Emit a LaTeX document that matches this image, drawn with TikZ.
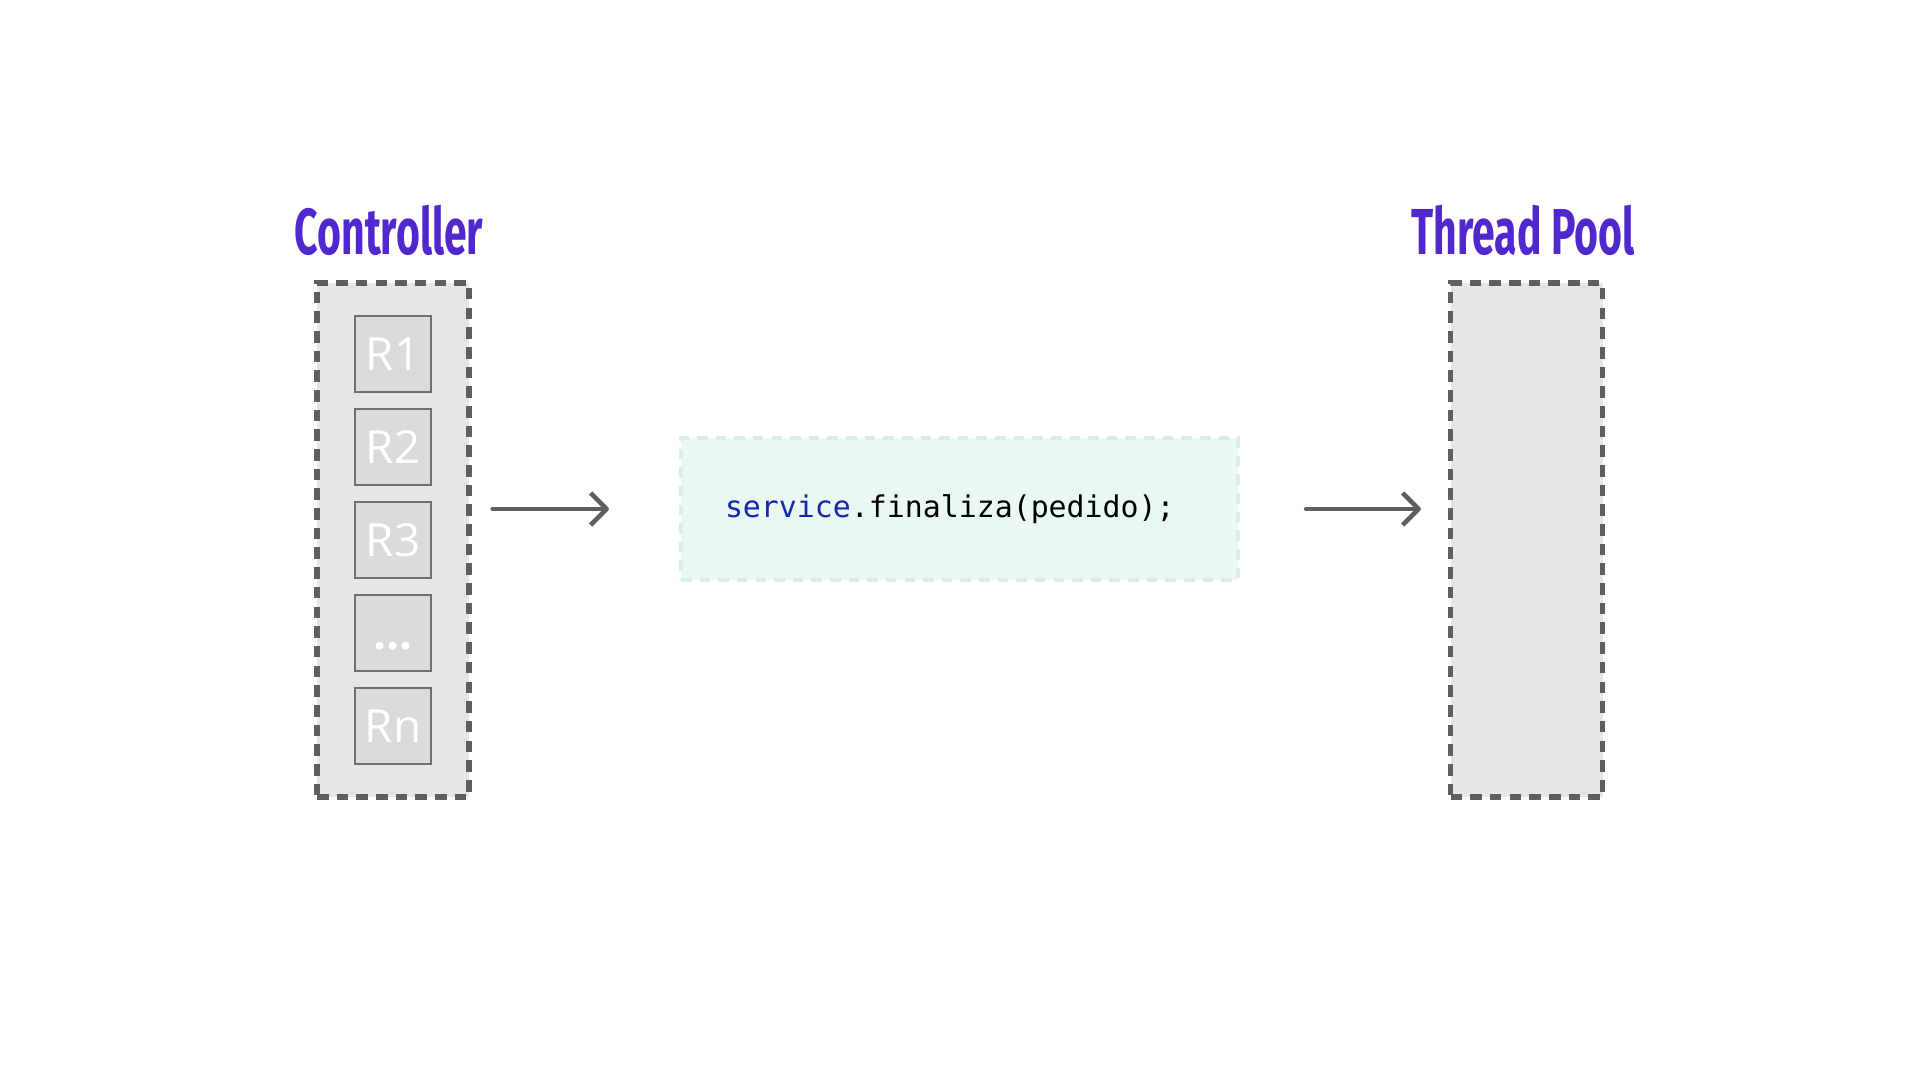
\documentclass[tikz,border=0pt]{standalone}
\usepackage{fontspec}
\usepackage{tikz}
\usetikzlibrary{arrows.meta}
\usetikzlibrary{positioning}

\newfontfamily\titlefont[FakeStretch=0.63]{Fira Sans}
\newfontfamily\reqfont{Open Sans}
\newfontfamily\codefont{DejaVu Sans Mono}

\definecolor{titlepurple}{RGB}{80,40,205}
\definecolor{boxgray}{RGB}{230,230,230}
\definecolor{reqgray}{RGB}{218,219,220}
\definecolor{edgegray}{RGB}{95,95,95}
\definecolor{reqedge}{RGB}{112,112,112}
\definecolor{codefill}{RGB}{235,248,241}
\definecolor{codeedge}{RGB}{214,240,227}
\definecolor{kwblue}{RGB}{20,40,170}

\tikzset{
    holder/.style={draw=edgegray, fill=boxgray, line width=1.5pt,
        dash pattern=on 3.3pt off 2.3pt, minimum width=1.52cm, minimum height=5.14cm},
    reqbox/.style={draw=reqedge, fill=reqgray, line width=0.7pt, minimum size=0.76cm,
        inner sep=0pt, text height=9.3pt, text depth=0pt, text=white,
        font=\reqfont\fontsize{13}{14}\selectfont},
    title/.style={text=titlepurple, anchor=base, inner sep=0pt,
        font=\titlefont\bfseries\fontsize{18.5}{20}\selectfont},
    flow/.style={draw=edgegray, line width=1.3pt, line cap=round,
        -{Straight Barb[length=1.6mm, width=3.2mm, line join=round]}}
}

\begin{document}
\begin{tikzpicture}
        \useasboundingbox (0,0) rectangle (19.2,10.8);
        % controller column with the requests
        \node[holder] (ctrl) at (3.93,5.40) {};
        \foreach \lbl [count=\i] in {R1,R2,R3,\textbf{…},Rn}
        {
            \node[reqbox] (r\i) at (3.93,{7.26-0.93*(\i-1)}) {\lbl};
        }
        \node[title] (ctrltitle) at (3.89,8.25) {Controller};

        % the call in the middle
        \node[draw=codeedge, fill=codefill, line width=1.2pt, dash pattern=on 3pt off 2.3pt,
            minimum height=1.42cm, text width=4.69cm, inner xsep=0.44cm, align=left,
            font=\codefont\fontsize{8.5}{10}\selectfont] (code) at (9.595,5.71)
            {\textcolor{kwblue}{service}.finaliza(pedido);};

        % thread pool
        \node[holder] (pool) at (15.265,5.40) {};
        \node[title] (pooltitle) at (15.23,8.25) {Thread Pool};

        \draw[flow, shorten <=0.21cm, shorten >=0.70cm] (ctrl.east |- code.west) -- (code.west);
        \draw[flow, shorten <=0.66cm, shorten >=0.27cm] (code.east) -- (code.east -| pool.west);
\end{tikzpicture}
\end{document}
